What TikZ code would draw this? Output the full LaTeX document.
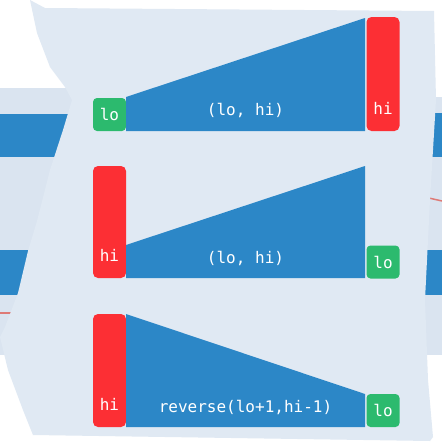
\documentclass[tikz,border=0pt]{standalone}
\usepackage{fontspec}
\newfontfamily\monofont{DejaVu Sans Mono}
\definecolor{panelc}{RGB}{224,233,243}
\definecolor{backc}{RGB}{218,228,240}
\definecolor{barblue}{RGB}{44,135,199}
\definecolor{hired}{RGB}{252,47,52}
\definecolor{logreen}{RGB}{44,186,110}
\definecolor{redline}{RGB}{222,122,118}
\tikzset{
  txt/.style={text=white, font=\monofont\fontsize{16}{19}\selectfont, inner sep=0pt},
  lobox/.style={txt, fill=logreen, rounded corners=4pt, minimum width=33pt, minimum height=33pt},
  hibox/.style={fill=hired, rounded corners=5pt, minimum width=33pt, inner sep=0pt},
  trap/.style={fill=barblue},
}
\begin{document}
\begin{tikzpicture}[x=1pt,y=-1pt]
\useasboundingbox (0,0) rectangle (442,442);
\fill[white] (0,0) rectangle (442,442);
% background page, left
\fill[backc] (0,88) rectangle (100,355);
\fill[barblue] (0,114) rectangle (100,157);
\fill[barblue] (0,250) rectangle (100,295);
\draw[redline, line width=2pt] (0,313) -- (40,313);
% background page, right
\fill[backc] (400,97) rectangle (442,355);
\fill[barblue] (400,113) rectangle (442,157);
\fill[barblue] (400,250) rectangle (442,295);
\draw[redline, line width=1.5pt] (420,196) -- (442,201);
% main panel
\fill[panelc] (30,0) -- (45,8) -- (434,11) -- (436,100) -- (430,200) -- (425,300)
  -- (428,380) -- (433,437) -- (430,441) -- (33,435) -- (23,410) -- (8,370)
  -- (0,337) -- (5,327) -- (18,293) -- (28,251) -- (37,221) -- (50,170)
  -- (63,130) -- (72,100) -- (65,87) -- (50,67) -- (37,33) -- cycle;
% row 1
\node[lobox] (loA) at (109.5,114.5) {lo};
\node[hibox, minimum height=114pt] (hiA) at (383,74) {};
\node[txt] (hiAt) at ([yshift=23pt]hiA.south) {hi};
\fill[trap] (126,97) -- (365,18) -- (365,131) -- (126,131) -- cycle;
\node[txt] (midA) at (245.5,110) {(lo, hi)};
% row 2
\node[hibox, minimum height=112pt] (hiB) at (109.5,222) {};
\node[txt] (hiBt) at ([yshift=23pt]hiB.south) {hi};
\fill[trap] (126,245) -- (365,166) -- (365,278) -- (126,278) -- cycle;
\node[txt] (midB) at (245.5,258) {(lo, hi)};
\node[lobox] (loB) at (383,262) {lo};
% row 3
\node[hibox, minimum height=113pt] (hiC) at (109.5,370.5) {};
\node[txt] (hiCt) at ([yshift=23pt]hiC.south) {hi};
\fill[trap] (126,314) -- (365,394) -- (365,427) -- (126,427) -- cycle;
\node[txt] (midC) at (245.5,407) {reverse(lo+1,hi-1)};
\node[lobox] (loC) at (383,410.5) {lo};
\end{tikzpicture}
\end{document}
